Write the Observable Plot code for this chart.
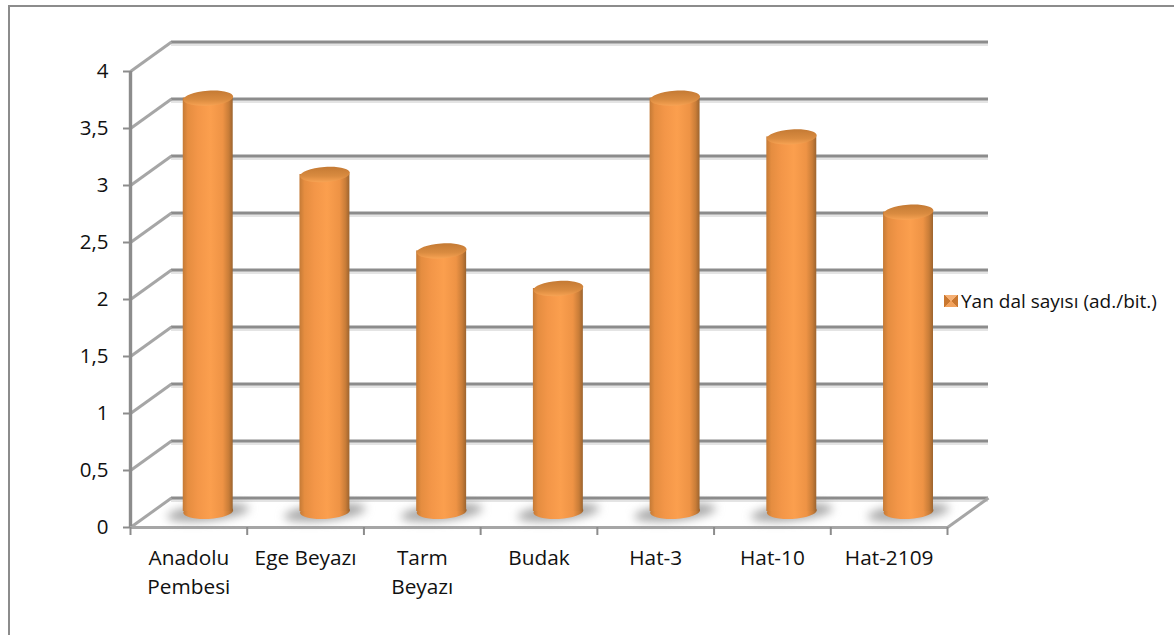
<!DOCTYPE html>
<html>
<head>
<meta charset="utf-8">
<script src="https://cdn.jsdelivr.net/npm/d3@7"></script>
<script src="https://cdn.jsdelivr.net/npm/@observablehq/plot@0.6"></script>
<style>
  html, body { margin: 0; background: #fff; }
  #chart { position: relative; width: 1174px; height: 635px; overflow: hidden; font-family: "Open Sans", sans-serif; }
  #frame { position: absolute; left: 8px; top: 5px; width: 1300px; height: 800px; border: 2px solid #8c8c8c; }
  #chart svg { position: absolute; left: 0; top: 0; }
  #legend { position: absolute; left: 944px; top: 288px; font-size: 19px; color: #111; white-space: nowrap; display: flex; align-items: center; gap: 3px; }
  #swatch { width: 14px; height: 12px; background: conic-gradient(#f6b074 0 13%, #c9772f 13% 37%, #f2a25c 37% 63%, #c9772f 63% 87%, #f6b074 87%); }
</style>
</head>
<body>
<div id="chart">
  <div id="frame"></div>
  <div id="legend"><span id="swatch"></span><span>Yan dal sayısı (ad./bit.)</span></div>
</div>
<script>
const categories = ["Anadolu\nPembesi", "Ege Beyazı", "Tarm\nBeyazı", "Budak", "Hat-3", "Hat-10", "Hat-2109"];
const branchCounts = [3.67, 3, 2.33, 2, 3.67, 3.33, 2.67];
const yTicks = [0, 0.5, 1, 1.5, 2, 2.5, 3, 3.5, 4];

// Depth of the pseudo-3D box, in pixels and in scale units.
const depthPx = [41, -29.5];
const depthX = 41 / (817 / 7);
const depthY = 29.5 / 114;
const halfBar = 0.214;
const midDepth = 0.166;

const rows = categories.map((name, i) => ({name, value: branchCounts[i], center: i + 0.5 + midDepth}));

// Tilted ellipse used as the caps of each cylinder.
function ellipseSymbol(ratio, tiltDeg) {
  const t = tiltDeg * Math.PI / 180, k = 0.5523;
  return {
    draw(ctx, size) {
      const a = Math.sqrt(size / Math.PI), b = a * ratio;
      const p = (u, v) => [u * Math.cos(t) - v * Math.sin(t), u * Math.sin(t) + v * Math.cos(t)];
      const c = (a1, b1, a2, b2, a3, b3) => ctx.bezierCurveTo(...p(a1, b1), ...p(a2, b2), ...p(a3, b3));
      ctx.moveTo(...p(a, 0));
      c(a, k * b, k * a, b, 0, b);
      c(-k * a, b, -a, k * b, -a, 0);
      c(-a, -k * b, -k * a, -b, 0, -b);
      c(k * a, -b, a, -k * b, a, 0);
      ctx.closePath();
    }
  };
}

function gradients() {
  const defs = d3.create("svg:defs");
  const add = (id, vertical, stops) => {
    const g = defs.append("linearGradient").attr("id", id)
      .attr("x1", 0).attr("y1", 0).attr("x2", vertical ? 0 : 1).attr("y2", vertical ? 1 : 0);
    stops.forEach(([o, c]) => g.append("stop").attr("offset", o).attr("stop-color", c));
  };
  add("cylinder", false, [[0, "#c47a36"], [0.1, "#e58d40"], [0.3, "#f39648"], [0.55, "#fb9f4e"], [0.8, "#ee9345"], [0.92, "#c97d38"], [1, "#9c642f"]]);
  add("cap", true, [[0, "#c47a34"], [0.6, "#d98b40"], [0.85, "#ec994b"], [1, "#f7a455"]]);
  return defs.node();
}

const wallLinks = yTicks.map(v => ({x1: 0, y1: v, x2: depthX, y2: v + depthY}));
const gridColor = "#8c8c8c";
const edgeColor = "#a6a6a6";

const chart = Plot.plot({
  width: 1174,
  height: 635,
  marginLeft: 130,
  marginRight: 227,
  marginTop: 71,
  marginBottom: 108,
  x: {domain: [0, 7], axis: null},
  y: {domain: [0, 4], axis: null},
  style: {background: "transparent", fontFamily: "'Open Sans', sans-serif", overflow: "visible"},
  marks: [
    gradients,
    // soft shadow under the back-wall grid lines
    Plot.ruleY(yTicks, {x1: 0, x2: 7, dx: depthPx[0], dy: depthPx[1] + 2.5, stroke: "#e4e4e4", strokeWidth: 3}),
    // back wall, left wall and floor edges
    Plot.ruleY(yTicks, {x1: 0, x2: 7, dx: depthPx[0], dy: depthPx[1], stroke: gridColor, strokeWidth: 3}),
    Plot.link(wallLinks, {x1: "x1", y1: "y1", x2: "x2", y2: "y2", stroke: edgeColor, strokeWidth: 3}),
    Plot.link([{x1: 7, y1: 0, x2: 7 + depthX, y2: depthY}], {x1: "x1", y1: "y1", x2: "x2", y2: "y2", stroke: edgeColor, strokeWidth: 3}),
    Plot.ruleX([0], {y1: 0, y2: 4, stroke: gridColor, strokeWidth: 3.4}),
    Plot.ruleY([0], {x1: 0, x2: 7, stroke: edgeColor, strokeWidth: 3}),
    // floor shadows
    Plot.dot(rows, {x: "center", y: 0, dy: -15, r: 41, symbol: ellipseSymbol(0.2, -6), fill: "#858585", fillOpacity: 0.7, imageFilter: "blur(5px)"}),
    // cylinders
    Plot.dot(rows, {x: "center", y: 0, dy: -16, r: 25, symbol: ellipseSymbol(0.3, -3), fill: "url(#cylinder)"}),
    Plot.rect(rows, {x1: d => d.center - halfBar, x2: d => d.center + halfBar, y1: 0, y2: "value", dy: -11, insetBottom: 5, fill: "url(#cylinder)"}),
    Plot.dot(rows, {x: "center", y: "value", dy: -11, r: 25, symbol: ellipseSymbol(0.3, -4), fill: "url(#cap)"}),
    // axes
    Plot.axisY(yTicks, {tickSize: 7, tickPadding: 15, stroke: gridColor, strokeWidth: 2, fill: "#111", fontSize: 20.5, tickFormat: d => String(d).replace(".", ","), label: null}),
    Plot.axisX(d3.range(8), {tickSize: 8, stroke: gridColor, strokeWidth: 2, tickFormat: () => "", label: null}),
    Plot.text(rows, {x: (d, i) => i + 0.5, y: 0, text: "name", dy: 17, lineAnchor: "top", fill: "#111", fontSize: 20.8, lineHeight: 1.38})
  ]
});

document.getElementById("chart").appendChild(chart);
</script>
</body>
</html>
